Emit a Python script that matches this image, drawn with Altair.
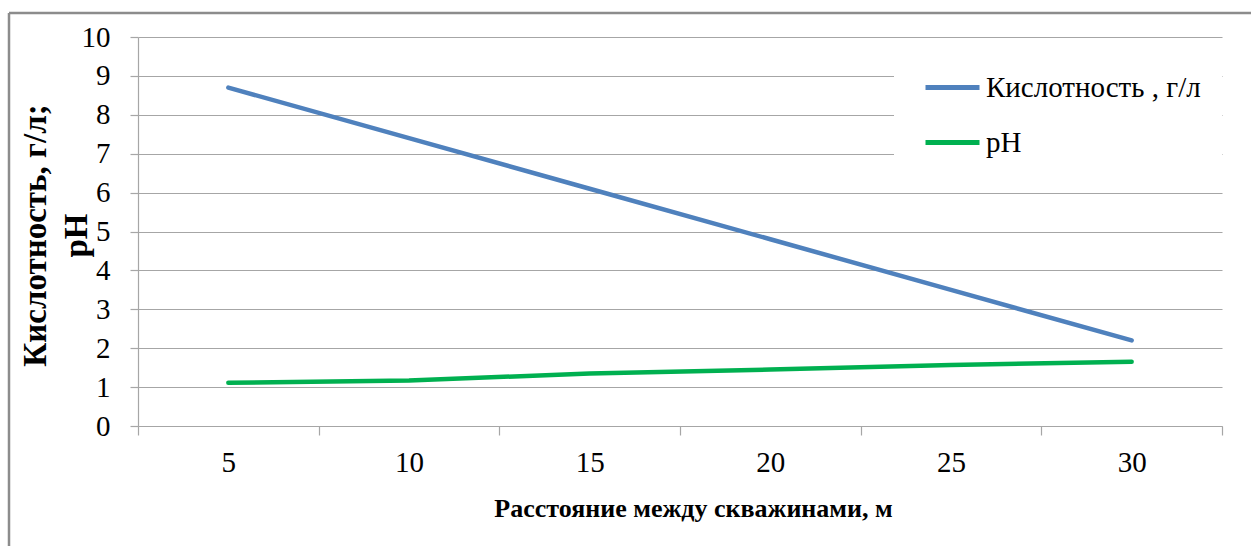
import altair as alt
import pandas as pd

# Distance between wells, m
distance = [5, 10, 15, 20, 25, 30]
# Acidity, g/l
acidity = [8.7, 7.4, 6.1, 4.8, 3.5, 2.2]
# pH
ph = [1.11, 1.17, 1.35, 1.45, 1.57, 1.65]

series_acid = "Кислотность , г/л"
series_ph = "pH"

df = pd.DataFrame(
    {
        "distance": distance * 2,
        "value": acidity + ph,
        "series": [series_acid] * len(distance) + [series_ph] * len(distance),
    }
)

FONT = "Liberation Serif"
GRID = "#a6a6a6"

# white panel behind the legend, hiding the gridlines there
legend_bg = (
    alt.Chart(pd.DataFrame({"k": [0]}))
    .mark_rect(color="white")
    .encode(
        x=alt.value(756), x2=alt.value(1084), y=alt.value(23), y2=alt.value(133)
    )
)

lines = (
    alt.Chart(df)
    .mark_line(strokeWidth=4.5, strokeCap="round")
    .encode(
        x=alt.X(
            "distance:O",
            bandPosition=0.5,
            scale=alt.Scale(type="band", paddingInner=0, paddingOuter=0),
            axis=alt.Axis(
                title="Расстояние между скважинами, м",
                labelAngle=0,
                tickBand="extent",
                tickSize=9,
                labelPadding=13,
                titlePadding=18,
                titleX=555,
                titleAlign="center",
                titleFontSize=26,
                titleFontWeight="bold",
            ),
        ),
        y=alt.Y(
            "value:Q",
            scale=alt.Scale(domain=[0, 10]),
            axis=alt.Axis(
                title=["Кислотность,  г/л;", "pH"],
                values=list(range(0, 11)),
                tickSize=8,
                labelPadding=20,
                titleAngle=270,
                titleAlign="center",
                titleBaseline="middle",
                titleX=-103,
                titleY=198,
                titleLineHeight=41,
                titleFontSize=33,
                titleFontWeight="bold",
            ),
        ),
        color=alt.Color(
            "series:N",
            scale=alt.Scale(
                domain=[series_acid, series_ph], range=["#4F81BD", "#00B050"]
            ),
            legend=alt.Legend(
                title=None,
                orient="none",
                legendX=785,
                legendY=21,
                symbolType="stroke",
                symbolSize=2916,
                symbolStrokeWidth=5,
                labelFont=FONT,
                labelFontSize=29,
                labelColor="black",
                labelLimit=0,
                labelOffset=4,
                rowPadding=10,
                padding=0,
            ),
        ),
    )
)

# outer frame: top and left edges
frame_top = (
    alt.Chart(pd.DataFrame({"k": [0]}))
    .mark_rule(color="#8c8c8c", strokeWidth=2.5)
    .encode(x=alt.value(-129), x2=alt.value(1113), y=alt.value(-24))
)
frame_left = (
    alt.Chart(pd.DataFrame({"k": [0]}))
    .mark_rule(color="#8c8c8c", strokeWidth=2.5)
    .encode(x=alt.value(-129), y=alt.value(-24), y2=alt.value(509))
)

chart = (
    alt.layer(legend_bg, lines, frame_top, frame_left)
    .properties(
        width=1084,
        height=389,
        autosize=alt.AutoSizeParams(type="none"),
        padding={"left": 138, "top": 37, "right": 29, "bottom": 120},
        background="white",
    )
    .configure_view(stroke=None)
    .configure_axis(
        labelFont=FONT,
        titleFont=FONT,
        labelFontSize=29,
        labelColor="black",
        titleColor="black",
        gridColor=GRID,
        gridWidth=1.2,
        domainColor=GRID,
        domainWidth=1.2,
        tickColor=GRID,
        tickWidth=1.2,
    )
    .configure_axisX(grid=False)
    .configure_axisY(grid=True)
)

chart.save("out.html", embed_options={"renderer": "svg", "actions": False})
